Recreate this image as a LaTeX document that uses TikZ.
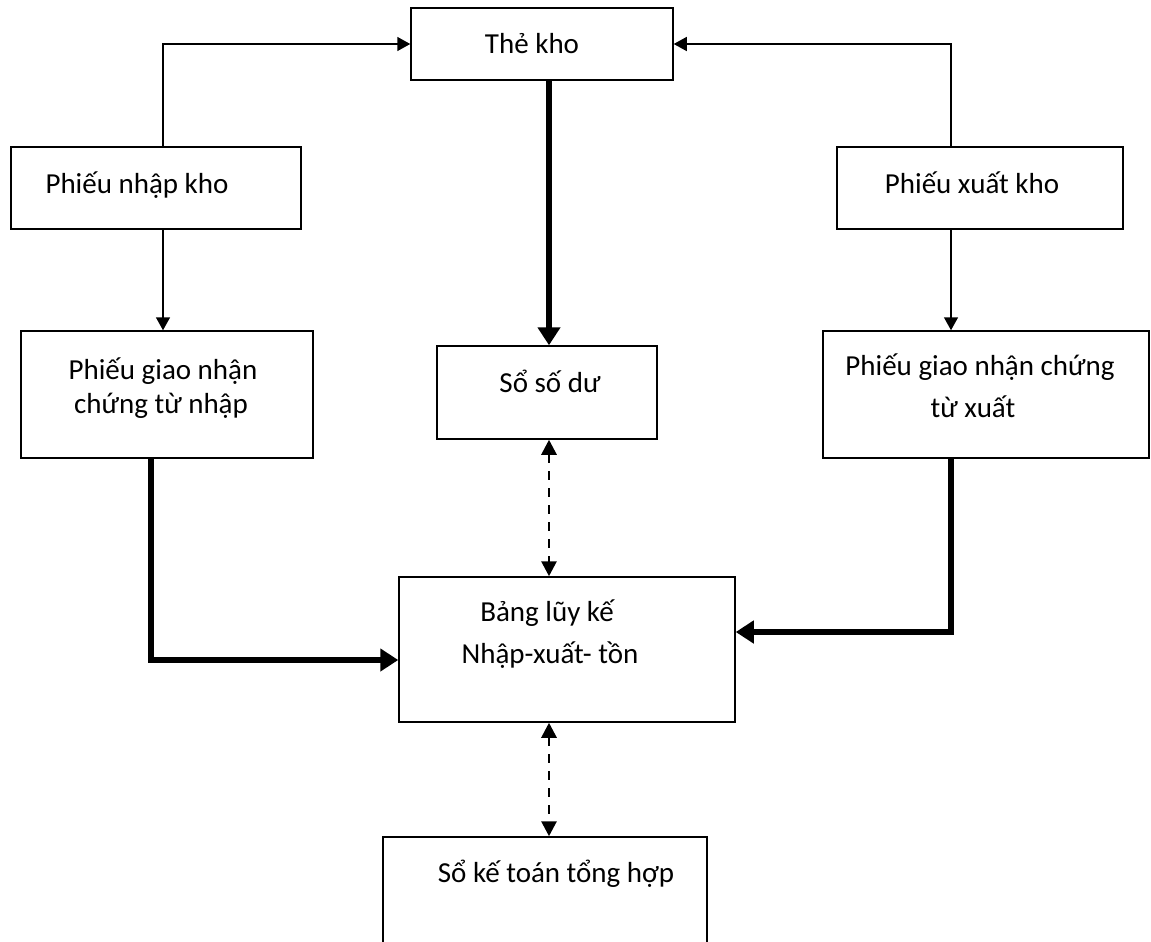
\documentclass[tikz,border=0pt]{standalone}
\usepackage{fontspec}
\setmainfont{Carlito}
\usetikzlibrary{arrows.meta}
\tikzset{
  box/.style={draw, line width=1.5pt, rectangle, inner sep=0pt},
  txt/.style={anchor=base, inner sep=0pt, font=\fontsize{29}{35}\selectfont},
  thinarr/.style={line width=1.5pt, -{Triangle[length=13pt,width=14pt]}},
  thickarr/.style={line width=6pt, line join=miter, -{Triangle[length=18pt,width=22pt]}},
  dasharr/.style={line width=2.8pt, dash pattern=on 9pt off 8pt, {Triangle[length=15pt,width=15pt]}-{Triangle[length=15pt,width=15pt]}}
}
\begin{document}
\begin{tikzpicture}[x=1pt,y=-1pt]
\useasboundingbox (0,0) rectangle (1151,942);
% boxes
\node[box, minimum width=262pt, minimum height=72pt] (thekho) at (542,44) {};
\node[box, minimum width=290pt, minimum height=82pt] (pnk) at (156,188) {};
\node[box, minimum width=286pt, minimum height=82pt] (pxk) at (980,188) {};
\node[box, minimum width=292pt, minimum height=127pt] (pgn) at (167,394.5) {};
\node[box, minimum width=220pt, minimum height=93pt] (ssd) at (547,392.5) {};
\node[box, minimum width=326pt, minimum height=127pt] (pgx) at (986,394.5) {};
\node[box, minimum width=336pt, minimum height=145pt] (bang) at (567,649.5) {};
\node[box, minimum width=324pt, minimum height=108pt] (skt) at (545,891) {};
% texts
\node[txt] (t1) at (532,53) {Thẻ kho};
\node[txt] (t2) at (137,193) {Phiếu nhập kho};
\node[txt] (t3) at (972,193) {Phiếu xuất kho};
\node[txt] (t4a) at (163,379) {Phiếu giao nhận};
\node[txt] (t4b) at (161,413) {chứng từ nhập};
\node[txt] (t5) at (550,392) {Sổ số dư};
\node[txt] (t6a) at (980,375) {Phiếu giao nhận chứng};
\node[txt] (t6b) at (973,417) {từ xuất};
\node[txt] (t7a) at (547,621) {Bảng lũy kế};
\node[txt] (t7b) at (550,663) {Nhập-xuất- tồn};
\node[txt] (t8) at (556,882) {Sổ kế toán tổng hợp};
% helper coordinates
\coordinate (xl) at (163,0);
\coordinate (xr) at (951,0);
\coordinate (xm) at (549,0);
\coordinate (xlt) at (151,0);
\coordinate (yl) at (0,660);
\coordinate (yr) at (0,632);
% connectors
\draw[thinarr] (pnk.north -| xl) |- (thekho.west);
\draw[thinarr] (pxk.north -| xr) |- (thekho.east);
\draw[thinarr] (pnk.south -| xl) -- (pgn.north -| xl);
\draw[thinarr] (pxk.south -| xr) -- (pgx.north -| xr);
\draw[thickarr] (thekho.south -| xm) -- (ssd.north -| xm);
\draw[thickarr] (pgn.south -| xlt) |- (bang.west |- yl);
\draw[thickarr] (pgx.south -| xr) |- (bang.east |- yr);
\draw[dasharr] (ssd.south -| xm) -- (bang.north -| xm);
\draw[dasharr] (bang.south -| xm) -- (skt.north -| xm);
\end{tikzpicture}
\end{document}
